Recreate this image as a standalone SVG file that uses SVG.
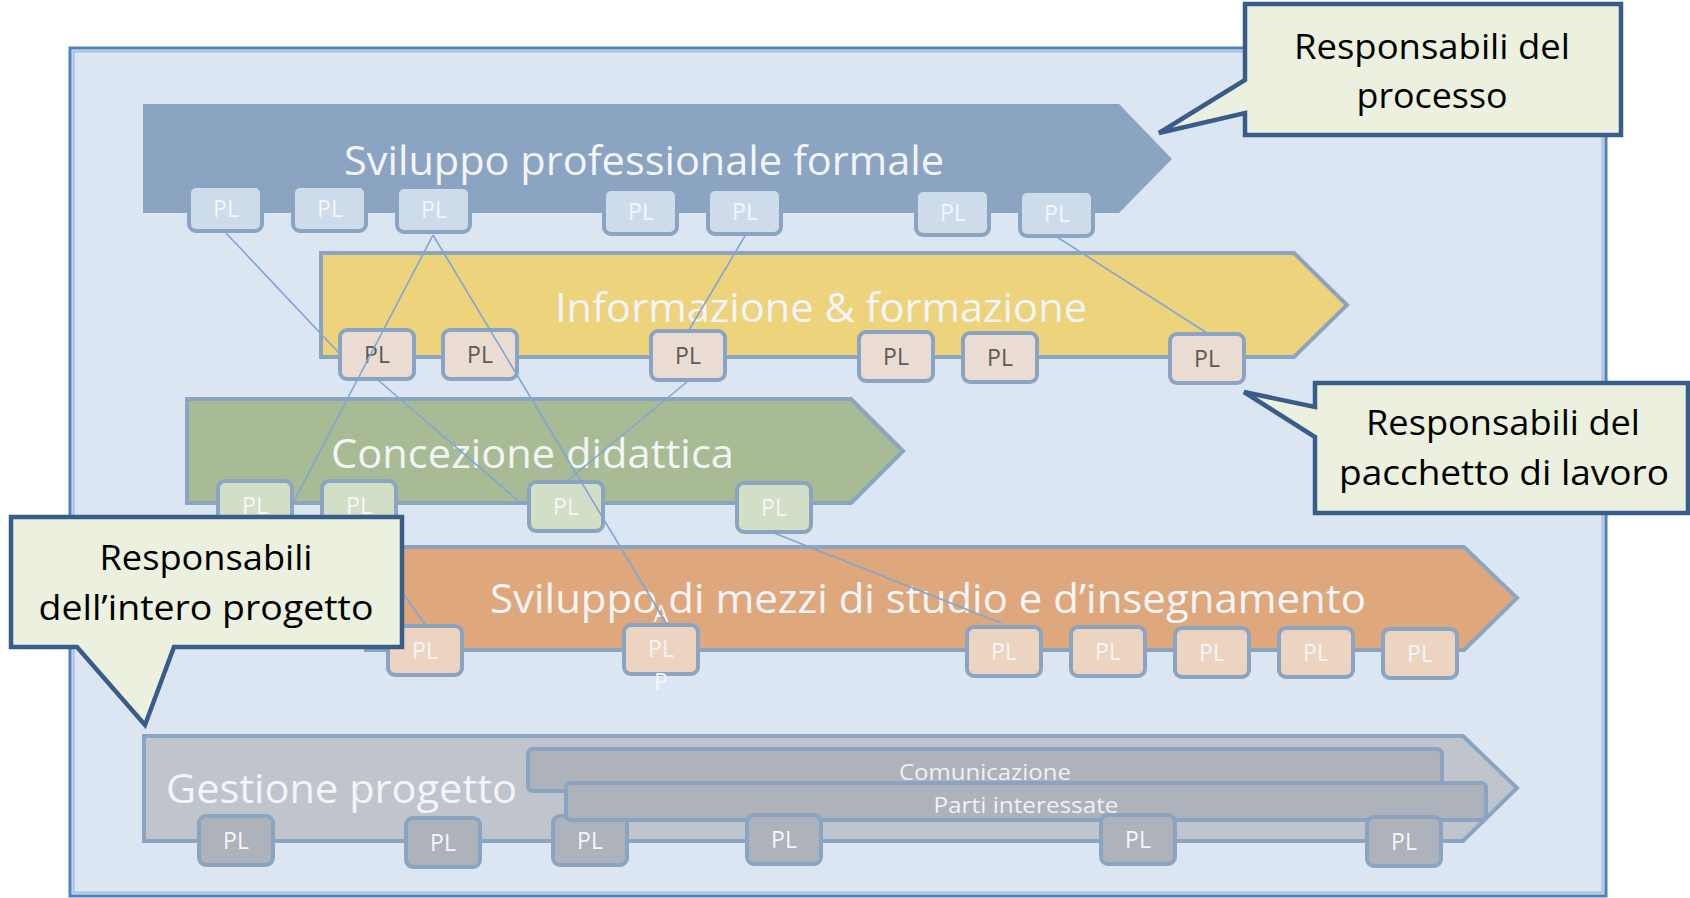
<svg xmlns="http://www.w3.org/2000/svg" width="1690" height="898" viewBox="0 0 1690 898">
<style>
.band{stroke:#8aa4c1;stroke-width:4;stroke-linejoin:miter}
.bt{font-family:"Open Sans","Noto Sans",sans-serif;font-size:40px;fill:#f2f4f7;lengthAdjust:spacingAndGlyphs}
.box{stroke:#8aa4c1;stroke-width:4}
.r1{fill:#cddbeb}.r2{fill:#eadcd2}.r3{fill:#d2dfc6}.r4{fill:#ecd4c0}.r5{fill:#aeb3bb}
.pl{font-family:"Open Sans","Noto Sans",sans-serif;font-size:23px;text-anchor:middle;fill:#f4f6f9}
.pld{fill:#5a5a5a}
.bar{fill:#aeb2ba;stroke:#8aa4c1;stroke-width:4}
.st{font-family:"Open Sans","Noto Sans",sans-serif;font-size:22px;text-anchor:middle;fill:#eef1f5}
.co{fill:#ebf1de;stroke:#385d8a;stroke-width:4.5;stroke-linejoin:miter}
.ct{font-family:"Open Sans","Noto Sans",sans-serif;font-size:35px;text-anchor:middle;fill:#000}
.ln{stroke:#7ea6d6;stroke-width:1.6;fill:none}
</style>
<defs>
<rect id="bx1" x="-37" y="-23" width="73" height="45" rx="7"/>
<rect id="bx" x="-37" y="-24" width="74" height="49" rx="7"/>
</defs>
<g id="frame">
<rect x="70" y="48" width="1536" height="848" fill="#dce6f2" stroke="#4f81bd" stroke-width="3"/>
<rect x="73.5" y="51.5" width="1529" height="841" fill="none" stroke="#a7bfdf" stroke-width="2"/>
</g>
<g id="band-sviluppo-professionale">
<polygon points="143,104 1119,104 1172,159 1119,213 143,213" fill="#8aa4c1"/>
<text class="bt" x="344" y="175" textLength="600" lengthAdjust="spacingAndGlyphs">Sviluppo professionale formale</text>
</g>
<g id="band-informazione">
<polygon class="band" points="321,253 1294,253 1347,305 1294,357 321,357" fill="#ecd37c"/>
<text class="bt" x="555" y="322" textLength="532" lengthAdjust="spacingAndGlyphs">Informazione &amp; formazione</text>
</g>
<g id="band-concezione">
<polygon class="band" points="187,399 851,399 903,451 851,503 187,503" fill="#a9bb94"/>
<text class="bt" x="331" y="468" textLength="403" lengthAdjust="spacingAndGlyphs">Concezione didattica</text>
</g>
<g id="band-mezzi">
<polygon class="band" points="366,547 1464,547 1517,598 1464,650 366,650" fill="#dea87c"/>
<text class="bt" x="490" y="613" textLength="876" lengthAdjust="spacingAndGlyphs">Sviluppo di mezzi di studio e d’insegnamento</text>
</g>
<g id="band-gestione">
<polygon class="band" points="144,736 1463,736 1517,788 1463,841 144,841" fill="#c0c5cd"/>
<text class="bt" x="166" y="803" textLength="351" lengthAdjust="spacingAndGlyphs">Gestione progetto</text>
</g>
<g id="pl5-3" transform="translate(590,840)"><use href="#bx" class="box r5"/><text class="pl" y="9">PL</text></g>
<g id="bar-comunicazione">
<rect class="bar" x="528" y="749" width="914" height="42" rx="5"/>
<text class="st" x="985" y="780" textLength="172" lengthAdjust="spacingAndGlyphs">Comunicazione</text>
</g>
<g id="bar-parti">
<rect class="bar" x="566" y="783" width="920" height="37" rx="5"/>
<text class="st" x="1026" y="813" textLength="185" lengthAdjust="spacingAndGlyphs">Parti interessate</text>
</g>
<g id="row1">
<g id="pl1-1" transform="translate(226,209)"><use href="#bx1" class="box r1"/><text class="pl" y="8">PL</text></g>
<g id="pl1-2" transform="translate(330,209)"><use href="#bx1" class="box r1"/><text class="pl" y="8">PL</text></g>
<g id="pl1-3" transform="translate(434,210)"><use href="#bx1" class="box r1"/><text class="pl" y="8">PL</text></g>
<g id="pl1-4" transform="translate(641,212)"><use href="#bx1" class="box r1"/><text class="pl" y="8">PL</text></g>
<g id="pl1-5" transform="translate(745,212)"><use href="#bx1" class="box r1"/><text class="pl" y="8">PL</text></g>
<g id="pl1-6" transform="translate(953,213)"><use href="#bx1" class="box r1"/><text class="pl" y="8">PL</text></g>
<g id="pl1-7" transform="translate(1057,214)"><use href="#bx1" class="box r1"/><text class="pl" y="8">PL</text></g>
</g>
<g id="row2">
<g id="pl2-1" transform="translate(377,354)"><use href="#bx" class="box r2"/><text class="pl pld" y="9">PL</text></g>
<g id="pl2-2" transform="translate(480,354)"><use href="#bx" class="box r2"/><text class="pl pld" y="9">PL</text></g>
<g id="pl2-3" transform="translate(688,355)"><use href="#bx" class="box r2"/><text class="pl pld" y="9">PL</text></g>
<g id="pl2-4" transform="translate(896,356)"><use href="#bx" class="box r2"/><text class="pl pld" y="9">PL</text></g>
<g id="pl2-5" transform="translate(1000,357)"><use href="#bx" class="box r2"/><text class="pl pld" y="9">PL</text></g>
<g id="pl2-6" transform="translate(1207,358)"><use href="#bx" class="box r2"/><text class="pl pld" y="9">PL</text></g>
</g>
<g id="row3">
<g id="pl3-1" transform="translate(255,505)"><use href="#bx" class="box r3"/><text class="pl" y="9">PL</text></g>
<g id="pl3-2" transform="translate(359,505)"><use href="#bx" class="box r3"/><text class="pl" y="9">PL</text></g>
<g id="pl3-3" transform="translate(566,506)"><use href="#bx" class="box r3"/><text class="pl" y="9">PL</text></g>
<g id="pl3-4" transform="translate(774,507)"><use href="#bx" class="box r3"/><text class="pl" y="9">PL</text></g>
</g>
<g id="row4">
<g id="pl4-1" transform="translate(425,650)"><use href="#bx" class="box r4"/><text class="pl" y="9">PL</text></g>
<g id="pl4-2" transform="translate(661,649)"><use href="#bx" class="box r4"/><text class="pl" y="-27">A</text><text class="pl" y="8">PL</text><text class="pl" y="41">P</text></g>
<g id="pl4-3" transform="translate(1004,651)"><use href="#bx" class="box r4"/><text class="pl" y="9">PL</text></g>
<g id="pl4-4" transform="translate(1108,651)"><use href="#bx" class="box r4"/><text class="pl" y="9">PL</text></g>
<g id="pl4-5" transform="translate(1212,652)"><use href="#bx" class="box r4"/><text class="pl" y="9">PL</text></g>
<g id="pl4-6" transform="translate(1316,652)"><use href="#bx" class="box r4"/><text class="pl" y="9">PL</text></g>
<g id="pl4-7" transform="translate(1420,653)"><use href="#bx" class="box r4"/><text class="pl" y="9">PL</text></g>
</g>
<g id="row5">
<g id="pl5-1" transform="translate(236,840)"><use href="#bx" class="box r5"/><text class="pl" y="9">PL</text></g>
<g id="pl5-2" transform="translate(443,842)"><use href="#bx" class="box r5"/><text class="pl" y="9">PL</text></g>
<g id="pl5-4" transform="translate(784,839)"><use href="#bx" class="box r5"/><text class="pl" y="9">PL</text></g>
<g id="pl5-5" transform="translate(1138,839)"><use href="#bx" class="box r5"/><text class="pl" y="9">PL</text></g>
<g id="pl5-6" transform="translate(1404,841)"><use href="#bx" class="box r5"/><text class="pl" y="9">PL</text></g>
</g>
<g id="connectors">
<line class="ln" x1="226" y1="233" x2="339" y2="353"/>
<line class="ln" x1="433" y1="235" x2="293" y2="503"/>
<line class="ln" x1="433" y1="235" x2="666" y2="623"/>
<line class="ln" x1="745" y1="236" x2="689" y2="330"/>
<line class="ln" x1="1057" y1="237" x2="1207" y2="333"/>
<line class="ln" x1="378" y1="380" x2="522" y2="504"/>
<line class="ln" x1="688" y1="381" x2="567" y2="481"/>
<line class="ln" x1="774" y1="533" x2="1001" y2="623"/>
<line class="ln" x1="358" y1="531" x2="425" y2="624"/>
</g>
<g id="callout-processo">
<path class="co" d="M1245,4 H1621 V135 H1245 V113 L1159,133 L1245,80 Z"/>
<text class="ct" x="1432" y="59" textLength="276" lengthAdjust="spacingAndGlyphs">Responsabili del</text>
<text class="ct" x="1432" y="108" textLength="151" lengthAdjust="spacingAndGlyphs">processo</text>
</g>
<g id="callout-pacchetto">
<path class="co" d="M1315,383 H1688 V513 H1315 V437 L1244,392 L1315,407 Z"/>
<text class="ct" x="1503" y="435" textLength="274" lengthAdjust="spacingAndGlyphs">Responsabili del</text>
<text class="ct" x="1504" y="485" textLength="330" lengthAdjust="spacingAndGlyphs">pacchetto di lavoro</text>
</g>
<g id="callout-progetto">
<path class="co" d="M11,517 H402 V647 H174 L145,725 L77,647 H11 Z"/>
<text class="ct" x="206" y="570" textLength="213" lengthAdjust="spacingAndGlyphs">Responsabili</text>
<text class="ct" x="206" y="620" textLength="335" lengthAdjust="spacingAndGlyphs">dell’intero progetto</text>
</g>
</svg>
